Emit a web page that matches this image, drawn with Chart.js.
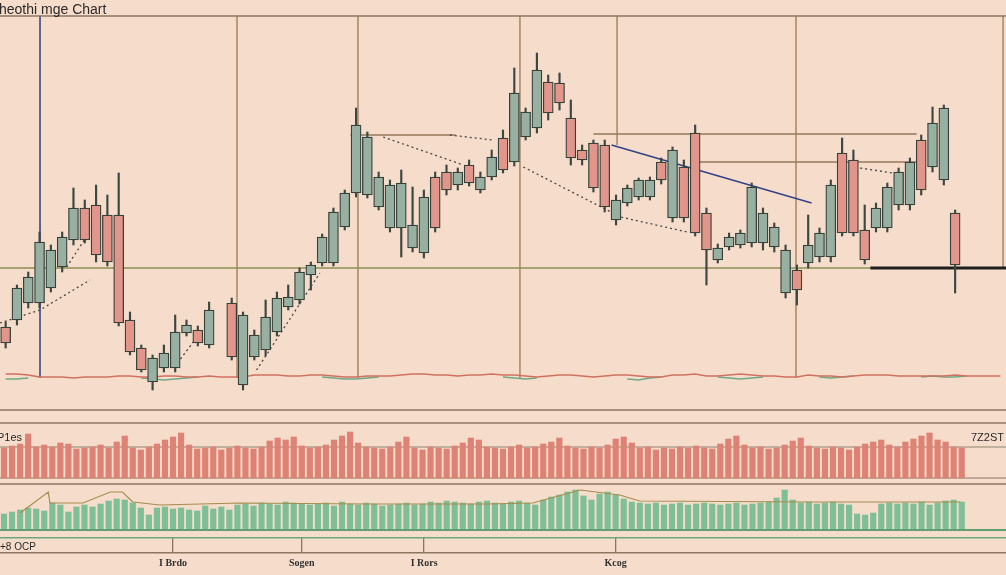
<!DOCTYPE html>
<html>
<head>
<meta charset="utf-8">
<script src="https://cdn.jsdelivr.net/npm/chart.js"></script>
<style>
  body { margin: 0; background: #f6ddcb; }
  #wrap { position: relative; width: 1006px; height: 575px; overflow: hidden; background: #f6ddcb;
          font-family: "Liberation Sans", Arial, sans-serif; }
  canvas { position: absolute; left: 0; }
  .lbl { position: absolute; color: #2c2a28; white-space: nowrap; }
</style>
</head>
<body>
<div id="wrap">
  <canvas id="main" width="1006" height="415" style="top:0"></canvas>
  <canvas id="volRed" width="1006" height="62" style="top:418px"></canvas>
  <canvas id="volGreen" width="1006" height="57" style="top:480px"></canvas>
  <canvas id="axisStrip" width="1006" height="38" style="top:537px"></canvas>
  <div class="lbl" style="left:-1px;top:1px;font-size:14px">heothi mge Chart</div>
  <div class="lbl" style="left:-3px;top:431px;font-size:11px">P1es</div>
  <div class="lbl" style="left:971px;top:431px;font-size:11px">7Z2ST</div>
  <div class="lbl" style="left:0;top:541px;font-size:10px">+8 OCP</div>
</div>
<script>
// candles, one slot per session (null = no candle)
const opens  = [83,90,107,107,122,143,170,202,205,195, 195,90,62,28,42,42,77,80,65,null,
                107,25,53,60,78,103,110,135,147,147, 183,217,215,203,182,182,162,157,233,238,
                225,245,220,233,272,248,273,282,328,327, 292,260,267,265,190,207,213,213,248,192,
                243,277,197,150,163,165,167,167,163,117, 140,147,153,153,257,250,180,182,182,205,
                205,270,243,230,197];
const highs  = [88,125,138,178,165,178,222,210,225,215, 237,98,65,55,65,95,90,84,108,null,
                112,98,80,110,118,125,142,148,176,202, 220,302,278,238,230,240,223,220,238,245,
                242,250,238,260,280,342,302,357,335,337, 310,265,270,270,215,225,232,233,252,263,
                250,285,202,166,177,180,227,202,187,165, 145,195,182,230,272,260,205,207,227,242,
                252,275,303,305,200];
const lows   = [62,85,102,102,118,138,165,167,148,144, 84,55,38,20,38,38,74,64,62,null,
                50,20,50,54,74,100,106,120,144,144, 180,213,212,200,178,153,158,152,178,215,
                220,224,217,230,237,244,270,277,290,300, 245,245,218,198,185,204,210,210,226,188,
                188,174,125,147,160,162,163,160,158,112, 105,142,148,148,174,174,146,178,178,200,
                200,215,238,225,117];
const closes = [67,122,133,168,160,173,202,170,155,148, 87,58,40,52,57,78,85,67,100,null,
                53,95,75,93,112,113,138,145,173,198, 217,285,273,233,225,227,185,213,182,220,
                238,227,233,253,240,317,298,340,297,307, 252,250,222,203,210,222,230,230,230,260,
                192,177,160,162,173,177,223,197,183,160, 120,165,177,225,177,177,150,202,223,238,
                248,220,287,302,145];

// thin indicator lines under the candles
const redBase = [36,36,35,33,33,33,32,33,33,33, 34,34,33,33,34,34,33,33,34,33,
                 33,33,35,35,35,34,34,35,35,34, 33,33,34,34,34,35,36,36,35,35,
                 34,35,35,36,35,35,34,33,34,35, 35,34,33,34,35,35,34,33,33,35,
                 35,36,34,34,35,36,35,34,34,33, 33,35,34,34,33,34,35,35,35,34,
                 34,34,34,34,35,34,34,34,34];
const greenBase = [31,31,32,null,null,null,null,null,null,null, null,null,32,31,30,31,32,33,null,null,
                   null,null,null,null,null,null,null,null,33,32, 31,31,32,33,null,null,null,null,null,null,
                   null,null,null,null,33,32,31,32,null,null, null,null,null,null,null,31,30,32,33,null,
                   null,null,null,33,32,31,32,33,null,null, null,null,33,32,33,34,null,null,null,null,
                   null,33,34,33,33,34,null,null,null];

// drawn guides, in session / price units
const markerX    = [3.04, 20.47, 31.17, 45.5, 54.09, 69.92, 88.24];
const markerFrom = [32, 32, 32, 32, 265, 32, 142];
const supportLevel = 142;
const levelLines = [[30.5, 39.8, 275], [52, 80.6, 276], [61.2, 80.6, 248]];
const trendLine = [[53.6, 265], [71.3, 207]];
const dottedPaths = [
  [[-0.5, 87], [3.04, 100], [7.46, 130]],
  [[5.4, 143], [7.7, 183]],
  [[15.2, 47], [17.2, 77]],
  [[22.2, 40], [27.8, 137]],
  [[33.4, 273], [40.5, 245]],
  [[39.3, 275], [43.1, 270]],
  [[45.8, 243], [54.4, 193], [60.3, 178]],
  [[75.6, 242], [78.5, 237]]
];
const closeLine = [[76.5, 142], [88.5, 142]];

// volume panels
const sellVolume = [30,32,34,44,31,33,31,35,34,29, 30,31,33,30,36,42,30,28,31,34,
                    38,41,45,33,29,30,31,28,30,32, 30,29,31,37,40,38,41,32,30,31,
                    33,38,42,46,35,31,30,29,31,36, 41,30,28,31,30,29,32,35,40,38,
                    31,30,29,31,33,30,31,34,36,40, 32,30,29,31,30,33,39,41,35,30,
                    31,28,30,29,31,30,32,30,29,34, 39,42,33,30,31,29,30,33,37,40,
                    32,30,29,31,30,28,31,34,36,38, 33,31,36,39,42,45,38,36,31,30];
const buyVolume = [16,18,20,22,21,19,27,25,18,23, 25,23,26,29,31,30,27,22,15,22,
                   23,21,22,20,19,24,21,23,20,25, 26,24,27,26,25,28,27,26,25,26,
                   27,24,28,26,25,27,26,24,25,26, 27,25,26,28,27,29,28,27,26,28,
                   29,27,26,28,29,27,25,30,33,35, 38,40,34,30,36,38,35,31,28,27,
                   26,27,25,26,27,25,26,27,26,25, 26,27,25,26,27,28,32,40,30,27,
                   28,26,27,28,26,25,16,15,17,26, 27,26,27,26,28,25,27,29,30,28];
const avgX = [2, 5.5, 5.7, 9.8, 13.2, 14.7, 16, 19.4, 29.3, 45, 60, 65.7, 71.6, 76.5, 79, 100, 118.8];
const avgY = [17, 38, 27, 27, 38, 38, 28, 25, 27, 26, 26, 27, 40, 35, 29, 28, 28];

// bottom axis
const tickPos = [21, 37, 52.2, 76];
const tickLabels = ["I Brdo", "Sogen", "I Rors", "Kcog"];

const UP = "#98b0a1", DOWN = "#e2958a", EDGE = "#38423b";
const BROWN = "#a88462", RULE = "#8c7660";

function hidden(min, max) {
  return { type: "linear", display: false, min: min, max: max, offset: false };
}

function seg(points, color, width, dash, order) {
  return {
    type: "line",
    data: points.map(p => ({ x: p[0], y: p[1] })),
    borderColor: color,
    borderWidth: width,
    borderDash: dash || [],
    pointRadius: 0,
    fill: false,
    tension: 0,
    spanGaps: false,
    clip: false,
    order: order || 6
  };
}

function baseOptions(xMin, xMax, yMin, yMax) {
  return {
    responsive: false,
    animation: false,
    events: [],
    layout: { padding: 0 },
    plugins: { legend: { display: false }, tooltip: { enabled: false }, title: { display: false } },
    scales: { x: hidden(xMin, xMax), y: hidden(yMin, yMax) }
  };
}

//main candle panel
const bodies = [], wicks = [];
opens.forEach((o, i) => {
  if (o === null) return;
  bodies.push({ x: i, y: [Math.min(o, closes[i]), Math.max(o, closes[i])], up: closes[i] >= o });
  wicks.push({ x: i, y: [lows[i], highs[i]] });
});

const mainSets = [
  {
    type: "bar", data: bodies, grouped: false, barThickness: 10,
    backgroundColor: ctx => (ctx.raw && ctx.raw.up ? UP : DOWN),
    borderColor: EDGE, borderWidth: 1.3, borderSkipped: false, order: 1
  },
  {
    type: "bar", data: wicks, grouped: false, barThickness: 1.5,
    backgroundColor: "#3d4741", order: 2
  },
  seg(redBase.map((v, i) => [i, v]), "#d0705f", 1.3, null, 4),
  seg(greenBase.map((v, i) => [i, v]), "#6fa985", 1.3, null, 4),
  seg([[-0.5, 394], [88.5, 394]], RULE, 1.5),
  seg([[-0.5, 0], [88.5, 0]], RULE, 1.5),
  seg([[-0.5, supportLevel], [88.5, supportLevel]], "#8e8c55", 1.5),
  seg(closeLine, "#1f1f1f", 3, null, 3),
  seg(trendLine, "#33408a", 1.5, null, 3)
];
markerX.forEach((x, k) => {
  mainSets.push(seg([[x, markerFrom[k]], [x, 394]], k === 0 ? "#2f3c7c" : BROWN, 1.5, null, 7));
});
levelLines.forEach(l => mainSets.push(seg([[l[0], l[2]], [l[1], l[2]]], "#93775c", 1.3)));
dottedPaths.forEach(p => mainSets.push(seg(p, "#4a4744", 1.3, [2, 3], 3)));

new Chart(document.getElementById("main"), {
  type: "bar",
  data: { datasets: mainSets },
  options: baseOptions(-0.5, 88.5, -5, 410)
});

//sell volume panel
new Chart(document.getElementById("volRed"), {
  type: "bar",
  data: {
    datasets: [
      { data: sellVolume.map((v, i) => ({ x: i, y: v })), barThickness: 5.5,
        backgroundColor: "#dd8274", order: 1 },
      seg([[-0.5, 55], [124.5, 55]], RULE, 1.5),
      seg([[-0.5, 31], [124.5, 31]], "#8d8374", 1, null, 8),
      seg([[-0.5, 0], [124.5, 0]], RULE, 1.2)
    ]
  },
  options: baseOptions(-0.5, 124.5, -2, 60)
});

//buy volume panel
new Chart(document.getElementById("volGreen"), {
  type: "bar",
  data: {
    datasets: [
      { data: buyVolume.map((v, i) => ({ x: i, y: v })), barThickness: 5.5,
        backgroundColor: "#7fbf98", order: 2 },
      seg(avgX.map((x, k) => [x, avgY[k]]), "#a58c4e", 1.2, null, 1),
      seg([[-0.5, 46], [124.5, 46]], RULE, 1.5),
      seg([[-0.5, 0], [124.5, 0]], "#5f9f72", 2, null, 1)
    ]
  },
  options: baseOptions(-0.5, 124.5, -7, 50)
});

//date axis strip
const stripOpts = baseOptions(-0.5, 124.5, 0, 18);
stripOpts.layout.padding = { bottom: 6 };
stripOpts.scales.x = {
  type: "linear", display: true, min: -0.5, max: 124.5, offset: false,
  afterBuildTicks: scale => { scale.ticks = tickPos.map(v => ({ value: v })); },
  ticks: {
    autoSkip: false, maxRotation: 0, padding: 4, color: "#333",
    font: { family: "Liberation Serif", size: 10, weight: "bold" },
    callback: (v, i) => tickLabels[i]
  },
  grid: { color: RULE, lineWidth: 1.3, drawTicks: false },
  border: { color: RULE, width: 1.5 }
};
new Chart(document.getElementById("axisStrip"), {
  type: "line",
  data: { datasets: [seg([[-0.5, 17.5], [124.5, 17.5]], "#6aa87c", 2)] },
  options: stripOpts
});
</script>
</body>
</html>
